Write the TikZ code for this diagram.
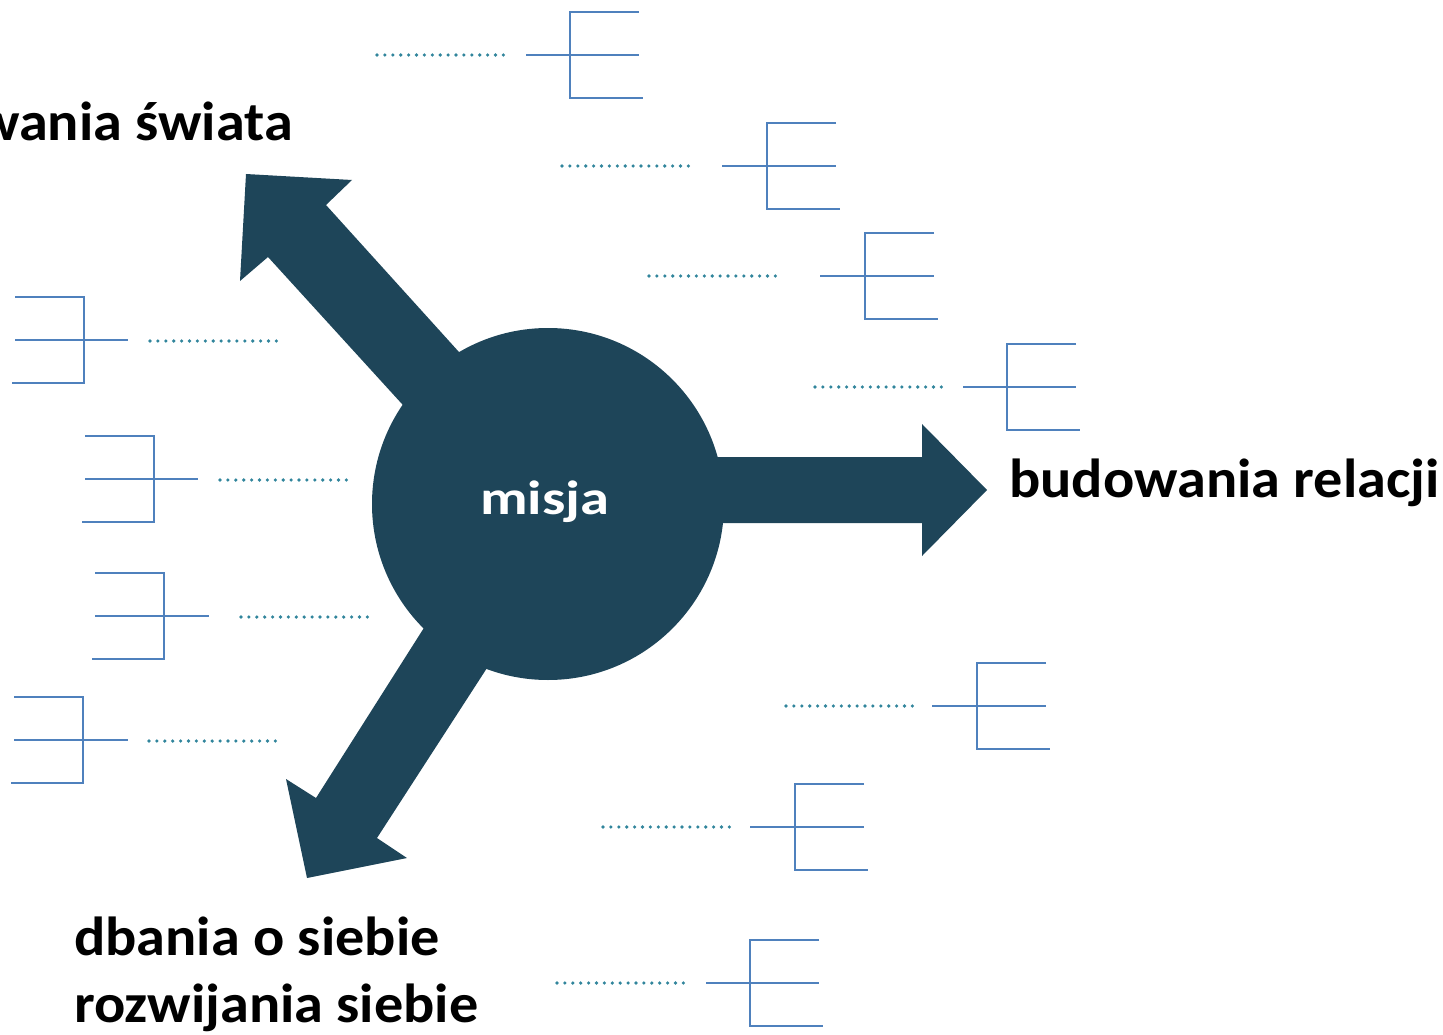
\documentclass[tikz,border=0pt]{standalone}
\usepackage{fontspec}
\setmainfont{Carlito}
\definecolor{hub}{HTML}{1E4559}
\definecolor{brk}{HTML}{4F81BD}
\definecolor{dotc}{HTML}{31859C}
\tikzset{
  bline/.style={draw=brk, line width=2pt},
  dotline/.style={draw=dotc, line width=3.6pt, line cap=round, dash pattern=on 0pt off 7.9pt},
  bigtext/.style={inner sep=0pt, font=\fontsize{55}{67}\selectfont\bfseries, xscale=1.06, transform shape},
  arrowshape/.style={fill=hub, draw=none}
}
% right-facing bracket: dot start, stem start, vertical x, middle y
\newcommand{\rbrk}[4]{%
  \draw[dotline] (#1,#4) -- ++(127,0);
  \draw[bline] (#2,#4) -- (#3+69,#4);
  \draw[bline] (#3+69,#4-43) -- (#3,#4-43) -- (#3,#4+43) -- (#3+73,#4+43);
}
% left-facing bracket: vertical x, middle y, stem right end, dot start
\newcommand{\lbrk}[4]{%
  \draw[bline] (#1-69,#2-43) -- (#1,#2-43) -- (#1,#2+43) -- (#1-72,#2+43);
  \draw[bline] (#1-69,#2) -- (#3,#2);
  \draw[dotline] (#4,#2+1) -- ++(128,0);
}
\begin{document}
\begin{tikzpicture}[x=1pt,y=-1pt]
\useasboundingbox (0,0) rectangle (1443,1035);
% arrows
\fill[arrowshape] (600,457) -- (922,457) -- (922,424) -- (987,490) -- (922,556) -- (922,523) -- (600,523) -- cycle;
\fill[arrowshape] (443,449) -- (268,257) -- (240,281) -- (246,174) -- (352,180) -- (326,205) -- (525,425) -- cycle;
\fill[arrowshape] (467,560) -- (316,798) -- (286,779) -- (307,878) -- (407,858) -- (377,838) -- (542,583) -- cycle;
% hub
\node[circle, fill=hub, minimum size=352pt, inner sep=0pt] (hub) at (548,504) {};
\node[inner sep=0pt, anchor=base, text=white, font=\fontsize{48}{58}\selectfont\bfseries, xscale=1.22, transform shape] (misja) at (545,514) {misja};
% labels
\node[bigtext, anchor=base west] (relacji) at (1009,497) {budowania relacji};
\node[bigtext, anchor=base east] (swiata) at (293,141) {wania świata};
\node[bigtext, anchor=base west] (dbania) at (74,955) {dbania o siebie};
\node[bigtext, anchor=base west] (rozw) at (74,1022) {rozwijania siebie};
% right brackets
\rbrk{377}{526}{570}{55}
\rbrk{562}{722}{767}{166}
\rbrk{649}{820}{865}{276}
\rbrk{815}{963}{1007}{387}
\rbrk{786}{932}{977}{706}
\rbrk{603}{750}{795}{827}
\rbrk{557}{706}{750}{983}
% left brackets
\lbrk{84}{340}{128}{150}
\lbrk{154}{479}{198}{220}
\lbrk{164}{616}{209}{241}
\lbrk{83}{740}{128}{149}
\end{tikzpicture}
\end{document}
